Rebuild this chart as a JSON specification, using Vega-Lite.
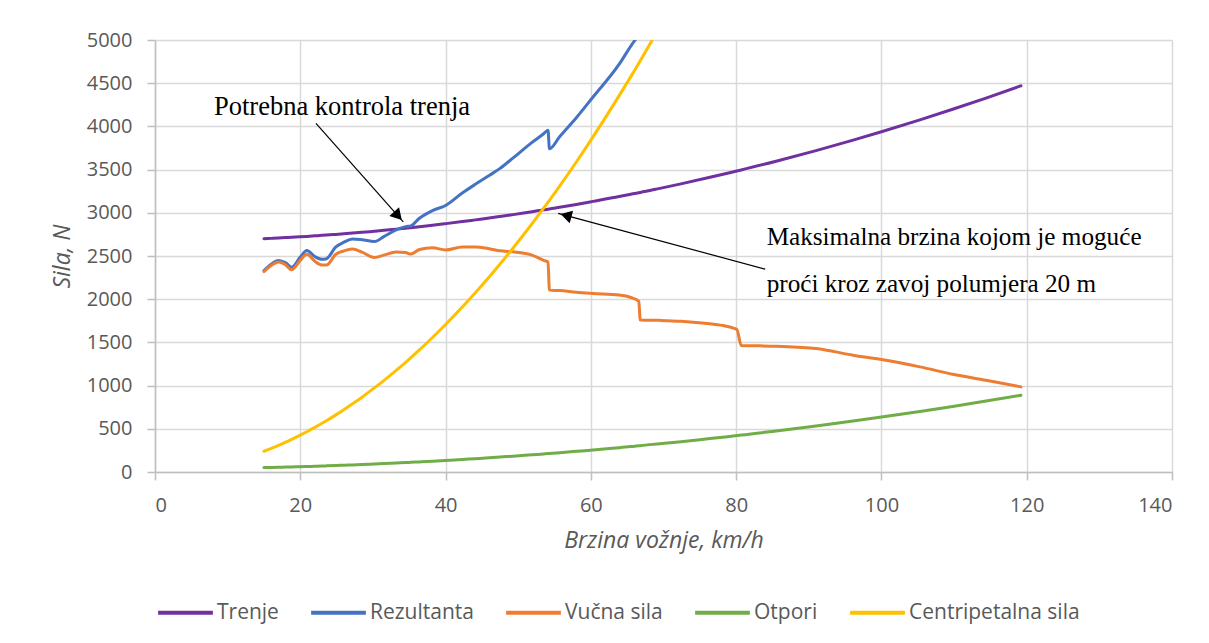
{
  "$schema": "https://vega.github.io/schema/vega-lite/v6.json",
  "width": 1017,
  "height": 432,
  "autosize": {"type": "none"},
  "padding": {"left": 155, "top": 40, "right": 37, "bottom": 171},
  "background": "white",
  "config": {
    "view": {"stroke": null},
    "axis": {
      "domainColor": "#bfbfbf",
      "domainWidth": 1.5,
      "tickColor": "#bfbfbf",
      "tickWidth": 1.5,
      "tickSize": 8,
      "gridColor": "#d9d9d9",
      "gridWidth": 1.5,
      "labelColor": "#595959",
      "labelFont": "Open Sans",
      "labelFontSize": 20,
      "labelPadding": 15,
      "titleFont": "Open Sans",
      "titleFontSize": 23,
      "titleFontStyle": "italic",
      "titleFontWeight": "normal",
      "titleColor": "#595959"
    }
  },
  "layer": [
    {
      "data": {
        "values": [
          {"x": 15, "Trenje": 2700, "Rezultanta": 2332, "Vučna sila": 2320, "Otpori": 51, "Centripetalna sila": 240},
          {"x": 16, "Trenje": 2704, "Rezultanta": 2406, "Vučna sila": 2390, "Otpori": 53, "Centripetalna sila": 273},
          {"x": 17, "Trenje": 2708, "Rezultanta": 2449, "Vučna sila": 2430, "Otpori": 55, "Centripetalna sila": 308},
          {"x": 18, "Trenje": 2713, "Rezultanta": 2420, "Vučna sila": 2395, "Otpori": 57, "Centripetalna sila": 346},
          {"x": 18.8, "Trenje": 2716, "Rezultanta": 2370, "Vučna sila": 2340, "Otpori": 59, "Centripetalna sila": 377},
          {"x": 20, "Trenje": 2722, "Rezultanta": 2487, "Vučna sila": 2450, "Otpori": 61, "Centripetalna sila": 427},
          {"x": 20.9, "Trenje": 2727, "Rezultanta": 2563, "Vučna sila": 2520, "Otpori": 64, "Centripetalna sila": 466},
          {"x": 22, "Trenje": 2733, "Rezultanta": 2494, "Vučna sila": 2440, "Otpori": 66, "Centripetalna sila": 516},
          {"x": 23, "Trenje": 2739, "Rezultanta": 2461, "Vučna sila": 2395, "Otpori": 69, "Centripetalna sila": 564},
          {"x": 23.6, "Trenje": 2742, "Rezultanta": 2468, "Vučna sila": 2395, "Otpori": 71, "Centripetalna sila": 594},
          {"x": 24.9, "Trenje": 2750, "Rezultanta": 2605, "Vučna sila": 2520, "Otpori": 75, "Centripetalna sila": 661},
          {"x": 26, "Trenje": 2757, "Rezultanta": 2660, "Vučna sila": 2560, "Otpori": 78, "Centripetalna sila": 721},
          {"x": 27.2, "Trenje": 2765, "Rezultanta": 2698, "Vučna sila": 2580, "Otpori": 82, "Centripetalna sila": 789},
          {"x": 28.5, "Trenje": 2774, "Rezultanta": 2689, "Vučna sila": 2545, "Otpori": 86, "Centripetalna sila": 866},
          {"x": 30.2, "Trenje": 2787, "Rezultanta": 2667, "Vučna sila": 2483, "Otpori": 92, "Centripetalna sila": 973},
          {"x": 31.5, "Trenje": 2797, "Rezultanta": 2724, "Vučna sila": 2510, "Otpori": 97, "Centripetalna sila": 1058},
          {"x": 33.2, "Trenje": 2811, "Rezultanta": 2803, "Vučna sila": 2545, "Otpori": 104, "Centripetalna sila": 1176},
          {"x": 34.5, "Trenje": 2822, "Rezultanta": 2840, "Vučna sila": 2540, "Otpori": 109, "Centripetalna sila": 1270},
          {"x": 35.2, "Trenje": 2828, "Rezultanta": 2847, "Vučna sila": 2522, "Otpori": 112, "Centripetalna sila": 1322},
          {"x": 36.4, "Trenje": 2839, "Rezultanta": 2937, "Vučna sila": 2575, "Otpori": 117, "Centripetalna sila": 1413},
          {"x": 38.2, "Trenje": 2856, "Rezultanta": 3026, "Vučna sila": 2595, "Otpori": 125, "Centripetalna sila": 1557},
          {"x": 40, "Trenje": 2874, "Rezultanta": 3085, "Vučna sila": 2570, "Otpori": 133, "Centripetalna sila": 1707},
          {"x": 42.3, "Trenje": 2898, "Rezultanta": 3229, "Vučna sila": 2605, "Otpori": 145, "Centripetalna sila": 1909},
          {"x": 44.1, "Trenje": 2918, "Rezultanta": 3330, "Vučna sila": 2605, "Otpori": 154, "Centripetalna sila": 2075},
          {"x": 46, "Trenje": 2939, "Rezultanta": 3432, "Vučna sila": 2585, "Otpori": 164, "Centripetalna sila": 2257},
          {"x": 47.5, "Trenje": 2957, "Rezultanta": 3514, "Vučna sila": 2560, "Otpori": 173, "Centripetalna sila": 2407},
          {"x": 49.3, "Trenje": 2979, "Rezultanta": 3635, "Vučna sila": 2548, "Otpori": 183, "Centripetalna sila": 2593},
          {"x": 51.9, "Trenje": 3013, "Rezultanta": 3815, "Vučna sila": 2510, "Otpori": 199, "Centripetalna sila": 2873},
          {"x": 53.5, "Trenje": 3034, "Rezultanta": 3915, "Vučna sila": 2450, "Otpori": 209, "Centripetalna sila": 3053},
          {"x": 54.1, "Trenje": 3042, "Rezultanta": 3956, "Vučna sila": 2430, "Otpori": 213, "Centripetalna sila": 3122},
          {"x": 54.3, "Trenje": 3045, "Rezultanta": 3740, "Vučna sila": 2105, "Otpori": 214, "Centripetalna sila": 3145},
          {"x": 55.7, "Trenje": 3064, "Rezultanta": 3880, "Vučna sila": 2100, "Otpori": 223, "Centripetalna sila": 3309},
          {"x": 58, "Trenje": 3097, "Rezultanta": 4100, "Vučna sila": 2080, "Otpori": 239, "Centripetalna sila": 3588},
          {"x": 60.3, "Trenje": 3132, "Rezultanta": 4340, "Vučna sila": 2066, "Otpori": 255, "Centripetalna sila": 3879},
          {"x": 63.9, "Trenje": 3188, "Rezultanta": 4720, "Vučna sila": 2048, "Otpori": 282, "Centripetalna sila": 4356},
          {"x": 65.5, "Trenje": 3215, "Rezultanta": 4930, "Vučna sila": 2020, "Otpori": 294, "Centripetalna sila": 4576},
          {"x": 66.6, "Trenje": 3233, "Rezultanta": 5060, "Vučna sila": 1975, "Otpori": 303, "Centripetalna sila": 4731},
          {"x": 66.8, "Trenje": 3236, "Vučna sila": 1760, "Otpori": 305, "Centripetalna sila": 4760},
          {"x": 69.5, "Trenje": 3283, "Vučna sila": 1755, "Otpori": 327, "Centripetalna sila": 5152},
          {"x": 72.4, "Trenje": 3335, "Vučna sila": 1745, "Otpori": 351},
          {"x": 76.4, "Trenje": 3411, "Vučna sila": 1715, "Otpori": 387},
          {"x": 78.5, "Trenje": 3452, "Vučna sila": 1690, "Otpori": 406},
          {"x": 79.8, "Trenje": 3478, "Vučna sila": 1660, "Otpori": 419},
          {"x": 80.1, "Trenje": 3484, "Vučna sila": 1650, "Otpori": 422},
          {"x": 80.7, "Trenje": 3496, "Vučna sila": 1465, "Otpori": 427},
          {"x": 85.5, "Trenje": 3597, "Vučna sila": 1456, "Otpori": 475},
          {"x": 91, "Trenje": 3720, "Vučna sila": 1429, "Otpori": 533},
          {"x": 96.1, "Trenje": 3841, "Vučna sila": 1352, "Otpori": 590},
          {"x": 100, "Trenje": 3938, "Vučna sila": 1302, "Otpori": 636},
          {"x": 105.3, "Trenje": 4075, "Vučna sila": 1217, "Otpori": 701},
          {"x": 109.8, "Trenje": 4198, "Vučna sila": 1132, "Otpori": 759},
          {"x": 114.4, "Trenje": 4328, "Vučna sila": 1062, "Otpori": 821},
          {"x": 119.2, "Trenje": 4470, "Vučna sila": 985, "Otpori": 888}
        ]
      },
      "transform": [
        {"fold": ["Trenje", "Rezultanta", "Vučna sila", "Otpori", "Centripetalna sila"], "as": ["serija", "sila"]},
        {"filter": "isValid(datum.sila)"}
      ],
      "mark": {"type": "line", "strokeWidth": 3, "interpolate": "monotone", "clip": true, "strokeCap": "round"},
      "encoding": {
        "x": {
          "field": "x", "type": "quantitative",
          "scale": {"domain": [0, 140], "nice": false},
          "axis": {"values": [0, 20, 40, 60, 80, 100, 120, 140], "format": "d", "title": "Brzina vožnje, km/h", "titlePadding": 14}
        },
        "y": {
          "field": "sila", "type": "quantitative",
          "scale": {"domain": [0, 5000], "nice": false},
          "axis": {"values": [0, 500, 1000, 1500, 2000, 2500, 3000, 3500, 4000, 4500, 5000], "format": "d", "title": "Sila, N", "titlePadding": 12}
        },
        "color": {
          "field": "serija", "type": "nominal",
          "scale": {
            "domain": ["Trenje", "Rezultanta", "Vučna sila", "Otpori", "Centripetalna sila"],
            "range": ["#7030a0", "#4472c4", "#ed7d31", "#70ad47", "#ffc000"]
          },
          "legend": {
            "title": null,
            "orient": "none",
            "legendX": 1,
            "legendY": 543,
            "direction": "horizontal",
            "symbolType": "stroke",
            "symbolSize": 3000,
            "symbolStrokeWidth": 4,
            "labelFont": "Open Sans",
            "labelFontSize": 21,
            "labelColor": "#595959",
            "labelOffset": 2,
            "labelLimit": 400,
            "columnPadding": 24
          }
        }
      }
    },
    {
      "data": {"values": [
        {"x": 22.16, "y": 4036, "x2": 34.18, "y2": 2896},
        {"x": 84.0, "y": 2348, "x2": 55.5, "y2": 2993}
      ]},
      "mark": {"type": "rule", "color": "black", "strokeWidth": 1.2},
      "encoding": {
        "x": {"field": "x", "type": "quantitative"},
        "y": {"field": "y", "type": "quantitative"},
        "x2": {"field": "x2"},
        "y2": {"field": "y2"}
      }
    },
    {
      "data": {"values": [{"x": 33.45, "y": 2965}]},
      "mark": {"type": "point", "shape": "triangle-up", "filled": true, "color": "black", "opacity": 1, "size": 170, "angle": 138},
      "encoding": {
        "x": {"field": "x", "type": "quantitative"},
        "y": {"field": "y", "type": "quantitative"}
      }
    },
    {
      "data": {"values": [{"x": 56.57, "y": 2969}]},
      "mark": {"type": "point", "shape": "triangle-up", "filled": true, "color": "black", "opacity": 1, "size": 170, "angle": -75},
      "encoding": {
        "x": {"field": "x", "type": "quantitative"},
        "y": {"field": "y", "type": "quantitative"}
      }
    },
    {
      "data": {"values": [
        {"x": 8.12, "y": 4132, "tekst": "Potrebna kontrola trenja"}
      ]},
      "mark": {"type": "text", "align": "left", "baseline": "alphabetic", "font": "Liberation Serif", "fontSize": 26.5, "color": "black"},
      "encoding": {
        "x": {"field": "x", "type": "quantitative"},
        "y": {"field": "y", "type": "quantitative"},
        "text": {"field": "tekst"}
      }
    },
    {
      "data": {"values": [
        {"x": 84.2, "y": 2626, "tekst": "Maksimalna brzina kojom je moguće"},
        {"x": 84.2, "y": 2087, "tekst": "proći kroz zavoj polumjera 20 m"}
      ]},
      "mark": {"type": "text", "align": "left", "baseline": "alphabetic", "font": "Liberation Serif", "fontSize": 25.2, "color": "black"},
      "encoding": {
        "x": {"field": "x", "type": "quantitative"},
        "y": {"field": "y", "type": "quantitative"},
        "text": {"field": "tekst"}
      }
    }
  ]
}
